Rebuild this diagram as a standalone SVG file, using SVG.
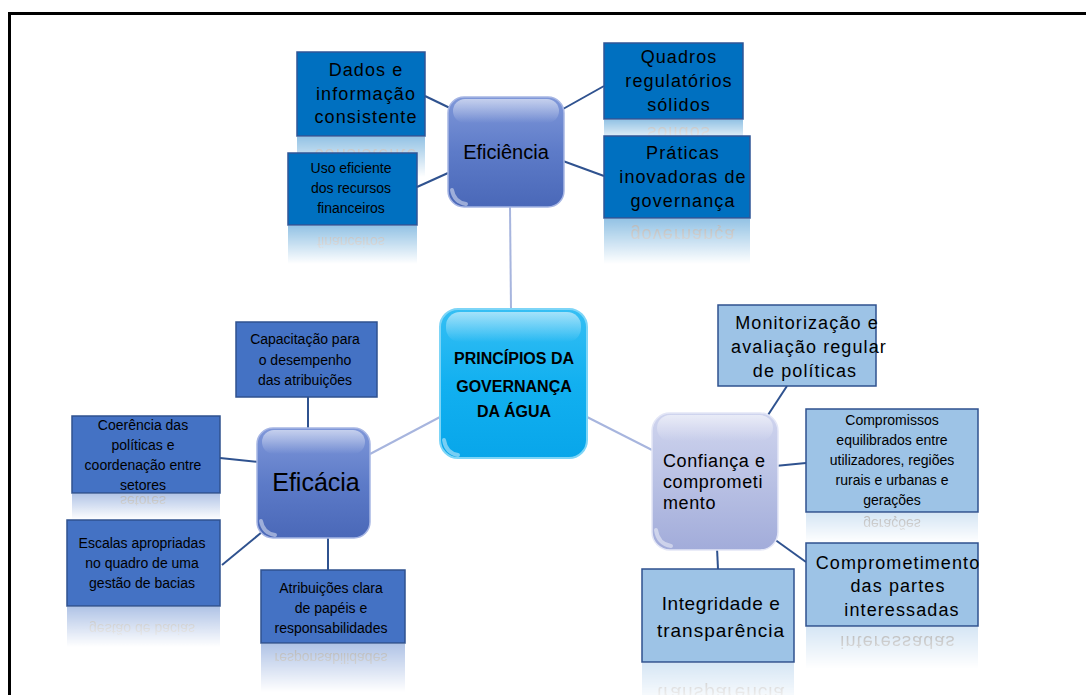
<svg xmlns="http://www.w3.org/2000/svg" width="1086" height="695" viewBox="0 0 1086 695">
  <defs>
    <style>
      text { font-family: "Liberation Sans", Arial, sans-serif; fill: #000; }
      .big { font-size: 18px; letter-spacing: 1.1px; text-anchor: middle; }
      .sm { font-size: 14px; text-anchor: middle; }
      .cen { font-size: 16px; font-weight: bold; text-anchor: middle; }
      .bx-dark { fill: #0070c0; stroke: #2f5597; stroke-width: 1.5; }
      .bx-mid { fill: #4472c4; stroke: #2f528f; stroke-width: 1.5; }
      .bx-light { fill: #9dc3e6; stroke: #2f528f; stroke-width: 1.5; }
      .link { stroke: #2f528f; stroke-width: 2; fill: none; }
      .link-soft { stroke: #a7b5de; stroke-width: 2; fill: none; }
      .refl-text { fill: #444; }
      .glint { fill: none; stroke: #fff; stroke-opacity: 0.45; stroke-width: 4; stroke-linecap: round; }
    </style>
    <linearGradient id="fadeGrad" x1="0" y1="0" x2="0" y2="1">
      <stop offset="0" stop-color="#fff" stop-opacity="0.42"/>
      <stop offset="1" stop-color="#fff" stop-opacity="0"/>
    </linearGradient>
    <mask id="fade" maskContentUnits="objectBoundingBox">
      <rect width="1" height="1" fill="url(#fadeGrad)"/>
    </mask>
    <linearGradient id="gEff" x1="0" y1="0" x2="0" y2="1">
      <stop offset="0" stop-color="#7f97d9"/>
      <stop offset="0.5" stop-color="#5d7bc8"/>
      <stop offset="1" stop-color="#4a68b8"/>
    </linearGradient>
    <linearGradient id="gCen" x1="0" y1="0" x2="0" y2="1">
      <stop offset="0" stop-color="#35bff4"/>
      <stop offset="0.5" stop-color="#12b0f0"/>
      <stop offset="1" stop-color="#08a6ea"/>
    </linearGradient>
    <linearGradient id="gConf" x1="0" y1="0" x2="0" y2="1">
      <stop offset="0" stop-color="#cfd4ee"/>
      <stop offset="0.5" stop-color="#b9c1e4"/>
      <stop offset="1" stop-color="#a2acda"/>
    </linearGradient>
    <linearGradient id="gloss" x1="0" y1="0" x2="0" y2="1">
      <stop offset="0" stop-color="#fff" stop-opacity="0.55"/>
      <stop offset="1" stop-color="#fff" stop-opacity="0"/>
    </linearGradient>
  </defs>

  <rect width="1086" height="695" fill="#fff"/>

  <!-- page frame -->
  <path d="M9.5,695 V13.5 H1086" fill="none" stroke="#000" stroke-width="3"/>

  <!-- mirrored reflections under the boxes -->
  <g id="reflections">
    <g mask="url(#fade)">
      <rect x="297" y="137" width="128" height="40" fill="#0070c0"/>
      <text class="big refl-text" x="366" y="123" transform="matrix(1 0 0 -1 0 272)">consistente</text>
    </g>
    <g mask="url(#fade)">
      <rect x="288" y="226" width="129" height="38" fill="#0070c0"/>
      <text class="sm refl-text" x="351" y="213" transform="matrix(1 0 0 -1 0 450)">financeiros</text>
    </g>
    <g mask="url(#fade)">
      <rect x="604" y="120" width="139" height="18" fill="#0070c0"/>
      <text class="big refl-text" x="679" y="111" transform="matrix(1 0 0 -1 0 238)">sólidos</text>
    </g>
    <g mask="url(#fade)">
      <rect x="604" y="219" width="146" height="45" fill="#0070c0"/>
      <text class="big refl-text" x="683" y="207" transform="matrix(1 0 0 -1 0 436)">governança</text>
    </g>
    <g mask="url(#fade)">
      <rect x="72" y="494" width="148" height="26" fill="#4472c4"/>
      <text class="sm refl-text" x="143" y="490" transform="matrix(1 0 0 -1 0 986)">setores</text>
    </g>
    <g mask="url(#fade)">
      <rect x="67" y="607" width="153" height="40" fill="#4472c4"/>
      <text class="sm refl-text" x="142" y="588" transform="matrix(1 0 0 -1 0 1212)">gestão de bacias</text>
    </g>
    <g mask="url(#fade)">
      <rect x="261" y="644" width="144" height="48" fill="#4472c4"/>
      <text class="sm refl-text" x="331" y="633" transform="matrix(1 0 0 -1 0 1286)">responsabilidades</text>
    </g>
    <g mask="url(#fade)">
      <rect x="806" y="513" width="172" height="30" fill="#9dc3e6"/>
      <text class="sm refl-text" x="892" y="505" transform="matrix(1 0 0 -1 0 1024)">gerações</text>
    </g>
    <g mask="url(#fade)">
      <rect x="806" y="627" width="172" height="42" fill="#9dc3e6"/>
      <text class="big refl-text" x="898" y="616" transform="matrix(1 0 0 -1 0 1252)">interessadas</text>
    </g>
    <g mask="url(#fade)">
      <rect x="642" y="663" width="152" height="32" fill="#9dc3e6"/>
      <text class="big refl-text" x="721" y="637" style="font-size:19px;letter-spacing:1px" transform="matrix(1 0 0 -1 0 1324)">transparência</text>
    </g>
  </g>

  <!-- connectors -->
  <g id="connectors">
    <line class="link-soft" x1="510" y1="207" x2="511" y2="309"/>
    <line class="link-soft" x1="440" y1="417" x2="370" y2="454"/>
    <line class="link-soft" x1="587" y1="417" x2="652" y2="450"/>

    <line class="link" x1="425" y1="96" x2="452" y2="109"/>
    <line class="link" x1="417" y1="187" x2="448" y2="173"/>
    <line class="link" x1="563" y1="109" x2="604" y2="86"/>
    <line class="link" x1="563" y1="161" x2="604" y2="176"/>

    <line class="link" x1="308" y1="397" x2="308" y2="432"/>
    <line class="link" x1="220" y1="458" x2="259" y2="462"/>
    <line class="link" x1="222" y1="565" x2="262" y2="532"/>
    <line class="link" x1="328" y1="538" x2="328" y2="570"/>

    <line class="link" x1="787" y1="386" x2="768" y2="415"/>
    <line class="link" x1="775" y1="466" x2="806" y2="463"/>
    <line class="link" x1="774" y1="539" x2="806" y2="562"/>
    <line class="link" x1="717" y1="548" x2="718" y2="569"/>
  </g>

  <!-- main topic -->
  <g id="node-principios">
    <rect x="440" y="309" width="147" height="149" rx="18" fill="url(#gCen)" stroke="#7dd5f7" stroke-width="2"/>
    <rect x="446" y="312" width="135" height="30" rx="14" fill="url(#gloss)"/>
    <path class="glint" d="M444,440 Q446,453 458,455"/>
    <text class="cen" x="514" y="364">PRINCÍPIOS DA</text>
    <text class="cen" x="514" y="392">GOVERNANÇA</text>
    <text class="cen" x="514" y="417">DA ÁGUA</text>
  </g>

  <!-- Eficiência branch -->
  <g id="node-eficiencia">
    <rect x="448" y="97" width="116" height="110" rx="16" fill="url(#gEff)" stroke="#a7b6e4" stroke-width="1.5"/>
    <rect x="453" y="99" width="106" height="24" rx="12" fill="url(#gloss)"/>
    <path class="glint" d="M452,190 Q454,202 466,204"/>
    <text x="506" y="159" style="font-size:20px;text-anchor:middle">Eficiência</text>
  </g>
  <g id="node-dados">
    <rect class="bx-dark" x="297" y="52" width="128" height="84"/>
    <text class="big" x="366" y="76">Dados e</text>
    <text class="big" x="366" y="100">informação</text>
    <text class="big" x="366" y="123">consistente</text>
  </g>
  <g id="node-uso">
    <rect class="bx-dark" x="288" y="153" width="129" height="72"/>
    <text class="sm" x="351" y="173">Uso eficiente</text>
    <text class="sm" x="351" y="193">dos recursos</text>
    <text class="sm" x="351" y="213">financeiros</text>
  </g>
  <g id="node-quadros">
    <rect class="bx-dark" x="604" y="43" width="139" height="76"/>
    <text class="big" x="679" y="63">Quadros</text>
    <text class="big" x="679" y="87">regulatórios</text>
    <text class="big" x="679" y="111">sólidos</text>
  </g>
  <g id="node-praticas">
    <rect class="bx-dark" x="604" y="136" width="146" height="82"/>
    <text class="big" x="683" y="159">Práticas</text>
    <text class="big" x="683" y="183">inovadoras de</text>
    <text class="big" x="683" y="207">governança</text>
  </g>

  <!-- Eficácia branch -->
  <g id="node-eficacia">
    <rect x="257" y="428" width="113" height="110" rx="16" fill="url(#gEff)" stroke="#a7b6e4" stroke-width="1.5"/>
    <rect x="262" y="430" width="103" height="24" rx="12" fill="url(#gloss)"/>
    <path class="glint" d="M261,521 Q263,533 275,535"/>
    <text x="316" y="491" style="font-size:25px;text-anchor:middle">Eficácia</text>
  </g>
  <g id="node-capacitacao">
    <rect class="bx-mid" x="236" y="322" width="141" height="75"/>
    <text class="sm" x="305" y="344">Capacitação para</text>
    <text class="sm" x="305" y="365">o desempenho</text>
    <text class="sm" x="305" y="385">das atribuições</text>
  </g>
  <g id="node-coerencia">
    <rect class="bx-mid" x="72" y="416" width="148" height="77"/>
    <text class="sm" x="143" y="430">Coerência das</text>
    <text class="sm" x="143" y="450">políticas e</text>
    <text class="sm" x="143" y="470">coordenação entre</text>
    <text class="sm" x="143" y="490">setores</text>
  </g>
  <g id="node-escalas">
    <rect class="bx-mid" x="67" y="520" width="153" height="86"/>
    <text class="sm" x="142" y="548">Escalas apropriadas</text>
    <text class="sm" x="142" y="568">no quadro de uma</text>
    <text class="sm" x="142" y="588">gestão de bacias</text>
  </g>
  <g id="node-atribuicoes">
    <rect class="bx-mid" x="261" y="570" width="144" height="73"/>
    <text class="sm" x="331" y="593">Atribuições clara</text>
    <text class="sm" x="331" y="613">de papéis e</text>
    <text class="sm" x="331" y="633">responsabilidades</text>
  </g>

  <!-- Confiança branch -->
  <g id="node-confianca">
    <rect x="652" y="413" width="126" height="137" rx="18" fill="url(#gConf)" stroke="#e3e6f6" stroke-width="1.5"/>
    <rect x="657" y="415" width="116" height="26" rx="13" fill="url(#gloss)"/>
    <path class="glint" d="M656,530 Q658,544 671,546"/>
    <g style="font-size:18px;letter-spacing:0.6px">
      <text x="663" y="467">Confiança e</text>
      <text x="663" y="488">comprometi</text>
      <text x="663" y="509">mento</text>
    </g>
  </g>
  <g id="node-monitorizacao">
    <rect class="bx-light" x="718" y="305" width="158" height="81"/>
    <text class="big" x="807" y="329">Monitorização e</text>
    <text class="big" x="809" y="353">avaliação regular</text>
    <text class="big" x="805" y="377">de políticas</text>
  </g>
  <g id="node-compromissos">
    <rect class="bx-light" x="806" y="409" width="172" height="103"/>
    <text class="sm" x="892" y="425">Compromissos</text>
    <text class="sm" x="892" y="445">equilibrados entre</text>
    <text class="sm" x="892" y="465">utilizadores, regiões</text>
    <text class="sm" x="892" y="485">rurais e urbanas e</text>
    <text class="sm" x="892" y="505">gerações</text>
  </g>
  <g id="node-comprometimento">
    <rect class="bx-light" x="806" y="543" width="172" height="83"/>
    <text class="big" x="898" y="569">Comprometimento</text>
    <text class="big" x="898" y="592">das partes</text>
    <text class="big" x="902" y="616">interessadas</text>
  </g>
  <g id="node-integridade">
    <rect class="bx-light" x="642" y="569" width="152" height="93"/>
    <text class="big" x="721" y="610" style="font-size:19px;letter-spacing:0.6px">Integridade e</text>
    <text class="big" x="721" y="637" style="font-size:19px;letter-spacing:1px">transparência</text>
  </g>
</svg>
